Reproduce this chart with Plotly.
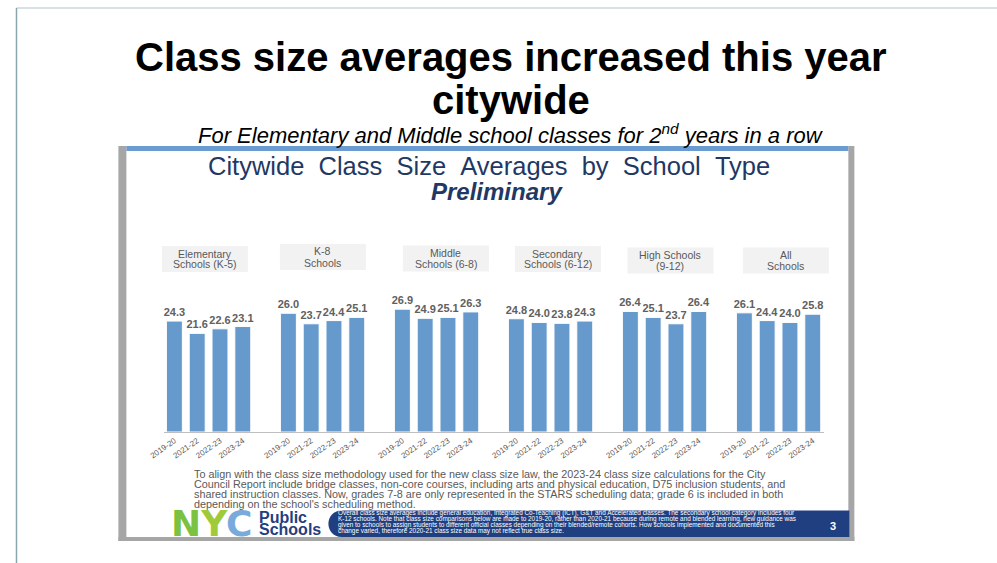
import plotly.graph_objects as go

W, H = 997, 563

# ---------------- data ----------------
years = ["2019-20", "2021-22", "2022-23", "2023-24"]
group_line1 = ["Elementary", "K-8", "Middle", "Secondary", "High Schools", "All"]
group_line2 = ["Schools (K-5)", "Schools", "Schools (6-8)", "Schools (6-12)", "(9-12)", "Schools"]
elementary = [24.3, 21.6, 22.6, 23.1]
k8 = [26.0, 23.7, 24.4, 25.1]
middle = [26.9, 24.9, 25.1, 26.3]
secondary = [24.8, 24.0, 23.8, 24.3]
high = [26.4, 25.1, 23.7, 26.4]
all_schools = [26.1, 24.4, 24.0, 25.8]
series = [elementary, k8, middle, secondary, high, all_schools]

footnote = [
    "To align with the class size methodology used for the new class size law, the 2023-24 class size calculations for the City",
    "Council Report include bridge classes, non-core courses, including arts and physical education, D75 inclusion students, and",
    "shared instruction classes. Now, grades 7-8 are only represented in the STARS scheduling data; grade 6 is included in both",
    "depending on the school's scheduling method.",
]
banner_lines = [
    "Overall class size averages include general education, Integrated Co-Teaching (ICT), G&T and Accelerated classes. The secondary school category includes four",
    "K-12 schools. Note that class size comparisons below are made to 2019-20, rather than 2020-21 because during remote and blended learning, new guidance was",
    "given to schools to assign students to different official classes depending on their blended/remote cohorts. How schools implemented and documented this",
    "change varied, therefore 2020-21 class size data may not reflect true class size.",
]

# ---------------- helpers (target pixel -> paper) ----------------
OFF, SC = 16.6, 0.984   # horizontal placement correction observed in the rendered page


def px(x):
    return max(0.0005, (x - OFF) / SC / W)


def py(y):
    return 1 - y / H


SLOTS = len(years) + 1
xs, ys, txt, ticktext = [], [], [], []
for gi, vals in enumerate(series):
    for yi, v in enumerate(vals):
        xs.append(gi * SLOTS + yi)
        ys.append(v)
        txt.append(f"<b>{v:.1f}</b>")
        ticktext.append(years[yi])
ticks = list(xs)

BAR = "#6699cc"
GREY = "#595959"
NAVY = "#1f3864"
FONT = "Liberation Sans"
NB = "\u00a0"

fig = go.Figure()
fig.add_trace(go.Bar(
    x=xs, y=ys, text=txt, textposition="outside", cliponaxis=False, constraintext="none",
    textfont=dict(family=FONT, size=11, color="#606060"),
    marker=dict(color=BAR, line=dict(color="white", width=1)),
    hoverinfo="skip", showlegend=False,
))

shapes = []
# slide border lines
shapes.append(dict(type="line", xref="paper", yref="paper", x0=px(11), x1=1, y0=py(8), y1=py(8),
                   line=dict(color="#c8d7df", width=1.5)))
shapes.append(dict(type="line", xref="paper", yref="paper", x0=px(11), x1=px(11), y0=py(8), y1=py(563),
                   line=dict(color="#8aa5ae", width=1.5)))
# embedded picture frame
FR = "#a6a6a6"
shapes.append(dict(type="rect", xref="paper", yref="paper", x0=px(119), x1=px(127), y0=py(541), y1=py(146),
                   line_width=0, fillcolor=FR))
shapes.append(dict(type="rect", xref="paper", yref="paper", x0=px(849), x1=px(855), y0=py(541), y1=py(146),
                   line_width=0, fillcolor=FR))
shapes.append(dict(type="rect", xref="paper", yref="paper", x0=px(119), x1=px(855), y0=py(541), y1=py(537),
                   line_width=0, fillcolor=FR))
shapes.append(dict(type="rect", xref="paper", yref="paper", x0=px(127), x1=px(849), y0=py(151), y1=py(146),
                   line_width=0, fillcolor="#6a9bd1"))

# group header boxes
box_cx = [205.5, 323.5, 446.5, 558.5, 671, 786.5]
box_cy = [259, 257, 258.5, 259, 260.5, 260.5]
for cx, cy in zip(box_cx, box_cy):
    shapes.append(dict(type="rect", xref="paper", yref="paper", x0=px(cx - 43), x1=px(cx + 43),
                       y0=py(cy + 13), y1=py(cy - 13), line_width=0, fillcolor="#f2f2f2", layer="below"))

# banner with rounded left end
bx0, bx1, by0, by1 = 329, 850, 510.5, 537
r = (by1 - by0) / 2
path = (f"M {px(bx0 + r)},{py(by0)} L {px(bx1)},{py(by0)} L {px(bx1)},{py(by1)} L {px(bx0 + r)},{py(by1)} "
        f"C {px(bx0 - r * 0.33)},{py(by1)} {px(bx0 - r * 0.33)},{py(by0)} {px(bx0 + r)},{py(by0)} Z")
shapes.append(dict(type="path", xref="paper", yref="paper", path=path, fillcolor="#203f80", line_width=0))

ann = []
# slide title
ann.append(dict(text="<b>Class size averages increased this year</b>", x=px(512), y=py(57), xref="paper", yref="paper",
                showarrow=False, font=dict(family=FONT, size=40, color="black"), xanchor="center", yanchor="middle"))
ann.append(dict(text="<b>citywide</b>", x=px(512), y=py(100), xref="paper", yref="paper",
                showarrow=False, font=dict(family=FONT, size=40, color="black"), xanchor="center", yanchor="middle"))
ann.append(dict(text="<i>For Elementary and Middle school classes for 2<sup>nd</sup> years in a row</i>",
                x=px(512), y=py(134), xref="paper", yref="paper", showarrow=False,
                font=dict(family=FONT, size=22, color="black"), xanchor="center", yanchor="middle"))
# chart title
chart_title = "Citywide Class Size Averages by School Type".replace(" ", " " + NB)
ann.append(dict(text=chart_title, x=px(490), y=py(166), xref="paper", yref="paper",
                showarrow=False, font=dict(family=FONT, size=25.5, color=NAVY), xanchor="center", yanchor="middle"))
ann.append(dict(text="<b><i>Preliminary</i></b>", x=px(498), y=py(191), xref="paper", yref="paper",
                showarrow=False, font=dict(family=FONT, size=24, color=NAVY), xanchor="center", yanchor="middle"))
# group headers
for cx, cy, l1, l2 in zip(box_cx, box_cy, group_line1, group_line2):
    ann.append(dict(text=l1, x=px(cx), y=py(cy - 5.5), xref="paper", yref="paper", showarrow=False,
                    font=dict(family=FONT, size=10.5, color=GREY), xanchor="center", yanchor="middle"))
    ann.append(dict(text=l2, x=px(cx), y=py(cy + 5.5), xref="paper", yref="paper", showarrow=False,
                    font=dict(family=FONT, size=10.5, color=GREY), xanchor="center", yanchor="middle"))
# footnote
for i, line in enumerate(footnote):
    ann.append(dict(text=line, x=px(193), y=py(474 + i * 10), xref="paper", yref="paper", showarrow=False,
                    font=dict(family=FONT, size=10.8, color=GREY), xanchor="left", yanchor="middle"))
# NYC logo
ann.append(dict(text="<b><span style='color:#7cc242'>N</span><span style='color:#9fcb3b'>Y</span>"
                     "<span style='color:#78aadb'>C</span></b>",
                x=px(255), y=py(523), xref="paper", yref="paper", showarrow=False,
                font=dict(family="DejaVu Sans", size=36), xanchor="right", yanchor="middle"))
ann.append(dict(text="<b>Public</b>", x=px(258), y=py(517), xref="paper", yref="paper", showarrow=False,
                font=dict(family=FONT, size=16, color="#1f3f7f"), xanchor="left", yanchor="middle"))
ann.append(dict(text="<b>Schools</b>", x=px(258), y=py(529), xref="paper", yref="paper", showarrow=False,
                font=dict(family=FONT, size=16, color="#1f3f7f"), xanchor="left", yanchor="middle"))
for i, line in enumerate(banner_lines):
    ann.append(dict(text=line, x=px(337), y=py(513 + i * 5.9), xref="paper", yref="paper", showarrow=False,
                    font=dict(family=FONT, size=6.4, color="white"), xanchor="left", yanchor="middle"))
ann.append(dict(text="<b>3</b>", x=px(834), y=py(525.5), xref="paper", yref="paper", showarrow=False,
                font=dict(family=FONT, size=11, color="white"), xanchor="center", yanchor="middle"))

x0_px, x1_px = 165, 825
pitch = 22.8
first_center = 175
base_px, top_px = 432, 290
unit_px = 4.566

fig.update_layout(
    width=W, height=H, margin=dict(l=0, r=0, t=0, b=0),
    paper_bgcolor="white", plot_bgcolor="white",
    bargap=0.3,
    shapes=shapes, annotations=ann,
    xaxis=dict(domain=[px(x0_px), px(x1_px)],
               range=[(x0_px - first_center) / pitch, (x1_px - first_center) / pitch],
               tickmode="array", tickvals=ticks, ticktext=ticktext, tickangle=-35,
               tickfont=dict(family=FONT, size=8, color=GREY),
               showline=True, linecolor="#bfbfbf", linewidth=1, ticks="",
               showgrid=False, zeroline=False, fixedrange=True),
    yaxis=dict(domain=[py(base_px), py(top_px)], range=[0, (base_px - top_px) / unit_px],
               visible=False, showgrid=False, zeroline=False, fixedrange=True),
    font=dict(family=FONT),
)

fig.write_html("out.html", config={"displayModeBar": False},
               post_script="document.body.style.margin='0';document.body.style.overflow='hidden';")
